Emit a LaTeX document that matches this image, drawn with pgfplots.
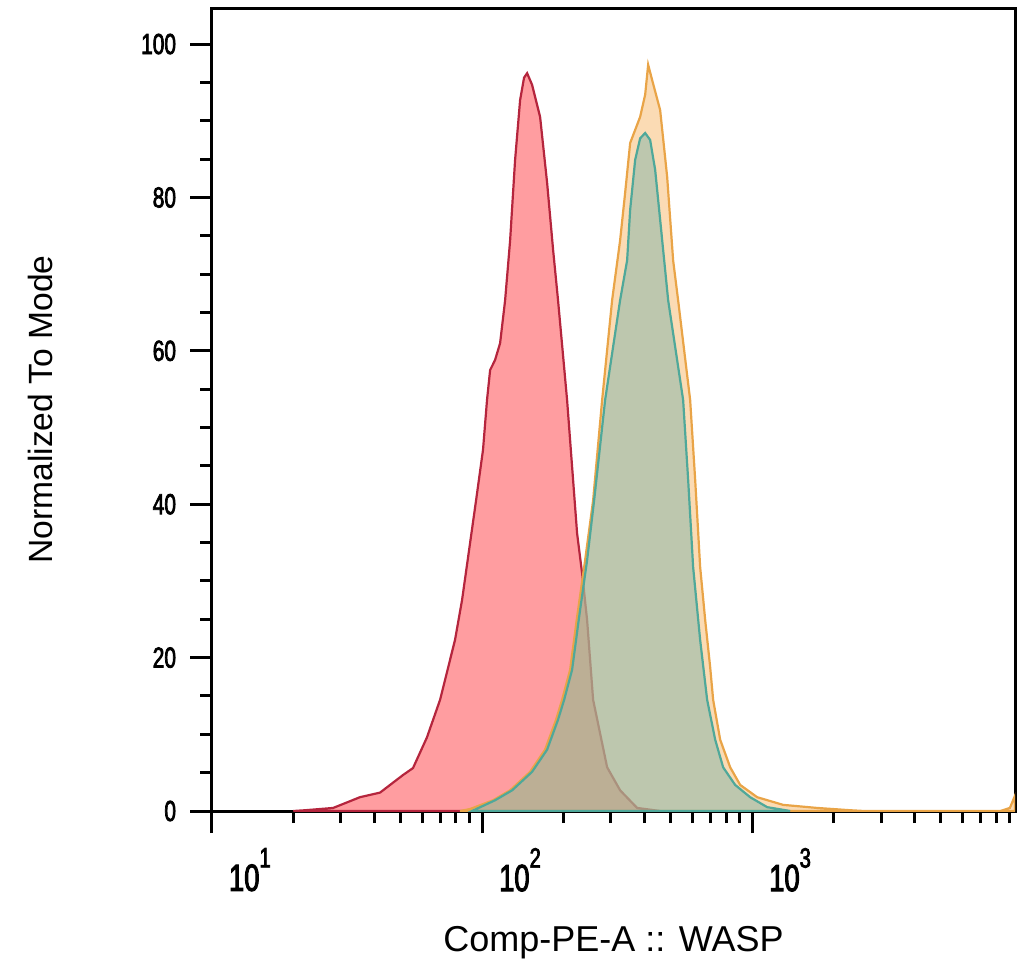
\documentclass[border=0pt]{standalone}
\usepackage{pgfplots}
\pgfplotsset{compat=1.18}
\usepackage{fontspec}
\setmainfont{Liberation Sans}
\newfontfamily\tickfont[FakeStretch=0.72,FakeBold=2.5]{Liberation Sans}
\newcommand{\tsup}[1]{\raisebox{0.62em}{\fontsize{14}{14}\selectfont #1}}
\definecolor{redline}{HTML}{B5253D}
\definecolor{redfill}{HTML}{FF8588}
\definecolor{orgline}{HTML}{E9A447}
\definecolor{orgfill}{HTML}{F7B86A}
\definecolor{tealline}{HTML}{4FA89A}
\definecolor{tealfill}{HTML}{80B4A8}

\pgfplotstableread{
x y
20 0
22.1 0.1
28.1 0.4
35.3 1.8
41.9 2.4
51.0 4.7
55.5 5.6
62.5 9.6
69.9 14.5
79.4 22.3
84.3 27.5
95.0 40.5
100.8 47.1
104.3 53.6
107.1 57.5
111.7 58.8
116.6 61.0
121.7 66.6
127.0 74.4
132.5 84.9
138.3 92.7
143.0 95.6
146.8 96.2
153.1 94.7
164.0 90.5
174.1 81.9
183.3 73.1
191.1 66.6
206.4 53.6
224.8 36.2
234.6 31.0
244.8 24.9
257.7 14.5
290.4 5.7
324.4 2.7
375.0 0.4
456 0
}\redtab

\pgfplotstableread{
x y
82.9 0
90.3 0.26
109.8 1.4
127.0 2.7
150.6 5.1
171.1 8.0
187.9 11.9
197.9 14.5
211.8 18.4
224.8 25.3
240.7 32.7
257.7 40.5
278.3 53.6
303.0 66.6
324.4 74.4
338.6 80.6
353.4 87.1
384.8 90.5
401.6 93.4
412.0 97.3
426.3 95.3
456.3 91.4
484.4 82.7
509.8 71.8
531.9 66.6
589.3 53.6
615.1 43.2
641.8 31.8
670 24.9
698.9 18.8
717.1 14.5
761.3 9.3
829 5.7
902.8 3.4
1043.5 1.8
1302 0.8
1740 0.4
2307 0.1
2600 0
8300 0
9000 0.4
9400 2.0
}\orgtab

\pgfplotstableread{
x y
91.8 0
111.7 1.4
129.2 2.7
153.1 5.1
174.1 8.0
191.1 11.9
201.3 14.5
215.4 18.4
228.7 25.3
244.8 32.7
259.9 40.5
285.5 53.6
324.4 66.6
344.4 71.8
353.4 78.4
368.8 84.9
384.8 87.7
401.6 88.4
419 87.5
437.3 83.6
456.3 77.1
488.6 66.6
555.1 53.6
579.4 43.2
604.6 31.8
641.8 22.3
681.3 14.5
729.6 9.3
780.8 5.7
865 3.4
983 1.8
1137 0.5
1382 0
}\tealtab

\begin{document}
\begin{tikzpicture}
\useasboundingbox (-106pt,-80pt) rectangle (403.5pt,405.5pt);
\begin{axis}[
  scale only axis,
  width=401.5pt, height=401.5pt,
  xmode=log,
  xmin=10, xmax=9400,
  ymin=0, ymax=104.7,
  axis line style={line width=1.5pt, black},
  tick pos=left,
  tick align=outside,
  tick style={line width=1.5pt, black},
  major tick length=11pt,
  minor tick length=6pt,
  xtick={10,100,1000},
  xticklabels={{10\tsup{1}},{10\tsup{2}},{10\tsup{3}}},
  minor xtick={20,30,40,50,60,70,80,90,200,300,400,500,600,700,800,900,2000,3000,4000,5000,6000,7000,8000,9000},
  ytick={0,20,40,60,80,100},
  yticklabels={0,20,40,60,80,100},
  minor ytick={5,10,15,25,30,35,45,50,55,65,70,75,85,90,95},
  xticklabel style={font=\tickfont\fontsize{19}{21}\selectfont, anchor=north west, xshift=5pt, yshift=-4pt},
  yticklabel style={font=\tickfont\fontsize{14.5}{16}\selectfont, anchor=east, xshift=-3.5pt},
  xlabel={Comp-PE-A :: WASP},
  ylabel={Normalized To Mode},
  every axis x label/.style={at={(axis description cs:0.5,0)}, anchor=center, yshift=-66pt, font=\fontsize{18}{20}\selectfont},
  every axis y label/.style={at={(axis description cs:-0.2142,0.5)}, anchor=center, rotate=90, font=\fontsize{16.8}{19}\selectfont},
]
\addplot[draw=redline, line width=1.1pt, fill=redfill, fill opacity=0.8] table {\redtab} \closedcycle;
\addplot[draw=orgline, line width=1.1pt, fill=orgfill, fill opacity=0.5] table {\orgtab} \closedcycle;
\addplot[draw=tealline, line width=1.1pt, fill=tealfill, fill opacity=0.5] table {\tealtab} \closedcycle;
\end{axis}
\end{tikzpicture}
\end{document}
